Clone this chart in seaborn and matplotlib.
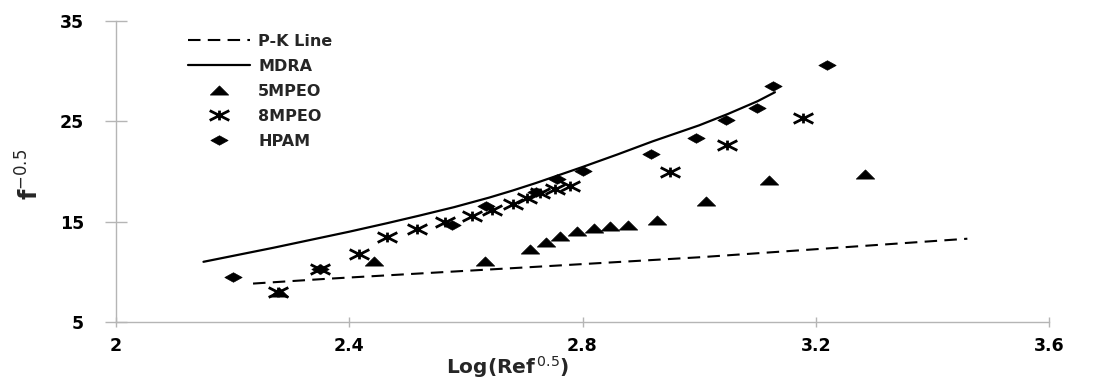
import matplotlib
matplotlib.use("Agg")
import matplotlib.pyplot as plt
from matplotlib.path import Path
from matplotlib.lines import Line2D
import seaborn as sns

# ---- data ----
pk_x = [2.235, 2.36, 2.72, 3.0, 3.46]
pk_y = [8.83, 9.3, 10.5, 11.45, 13.3]

mdra_x = [2.15, 2.27, 2.40, 2.465, 2.52, 2.58, 2.64, 2.68, 2.72, 2.76, 2.80, 2.86, 2.92, 3.00, 3.05, 3.10, 3.13]
mdra_y = [11.0, 12.4, 14.0, 14.85, 15.6, 16.45, 17.4, 18.1, 18.85, 19.65, 20.45, 21.7, 23.0, 24.6, 25.75, 27.0, 27.9]

mpeo5_x = [2.28, 2.443, 2.632, 2.71, 2.737, 2.762, 2.791, 2.82, 2.848, 2.878, 2.927, 3.011, 3.12, 3.284]
mpeo5_y = [8.0, 11.05, 11.05, 12.3, 13.0, 13.6, 14.05, 14.4, 14.6, 14.7, 15.15, 17.1, 19.2, 19.75]

mpeo8_x = [2.278, 2.35, 2.416, 2.465, 2.516, 2.564, 2.61, 2.645, 2.68, 2.705, 2.727, 2.752, 2.779, 2.95, 3.048, 3.178]
mpeo8_y = [8.0, 10.3, 11.8, 13.5, 14.3, 14.95, 15.6, 16.2, 16.8, 17.4, 17.9, 18.3, 18.6, 20.0, 22.6, 25.3]

hpam_x = [2.20, 2.35, 2.576, 2.634, 2.72, 2.757, 2.801, 2.917, 2.995, 3.046, 3.10, 3.126, 3.219]
hpam_y = [9.5, 10.3, 14.7, 16.6, 18.0, 19.3, 20.05, 21.7, 23.3, 25.1, 26.3, 28.5, 30.6]

x_ticks = [2, 2.4, 2.8, 3.2, 3.6]
x_tick_labels = ["2", "2.4", "2.8", "3.2", "3.6"]
y_ticks = [5, 15, 25, 35]
y_tick_labels = ["5", "15", "25", "35"]

# ---- style ----
sns.set_style("white")
plt.rcParams["font.family"] = ["DejaVu Sans"]

tri_marker = Path([(-1, -0.5), (1, -0.5), (0, 0.5), (-1, -0.5)],
                  [Path.MOVETO, Path.LINETO, Path.LINETO, Path.CLOSEPOLY])
dia_marker = Path([(-1, 0), (0, 0.55), (1, 0), (0, -0.55), (-1, 0)],
                  [Path.MOVETO, Path.LINETO, Path.LINETO, Path.LINETO, Path.CLOSEPOLY])
star_marker = Path([(0, -0.5), (0, 0.5), (-1, -0.5), (1, 0.5), (-1, 0.5), (1, -0.5)],
                   [Path.MOVETO, Path.LINETO, Path.MOVETO, Path.LINETO, Path.MOVETO, Path.LINETO])

fig = plt.figure(figsize=(11, 3.81), dpi=100)
ax = fig.add_axes([116 / 1100, 1 - 322 / 381, (1049 - 116) / 1100, (322 - 21) / 381])

sns.lineplot(x=pk_x, y=pk_y, ax=ax, color="black", lw=1.5,
             linestyle=(0, (6, 3.5)), sort=True)
sns.lineplot(x=mdra_x, y=mdra_y, ax=ax, color="black", lw=1.6, sort=True)

sns.scatterplot(x=mpeo5_x, y=mpeo5_y, ax=ax, marker=tri_marker, s=175,
                color="black", edgecolor="black", linewidth=0.5, zorder=3)
sns.scatterplot(x=mpeo8_x, y=mpeo8_y, ax=ax, marker=star_marker, s=200,
                color="black", edgecolor="black", linewidth=2.0, zorder=3)
sns.scatterplot(x=hpam_x, y=hpam_y, ax=ax, marker=dia_marker, s=155,
                color="black", edgecolor="black", linewidth=0.5, zorder=3)

ax.set_xlim(2, 3.6)
ax.set_ylim(5, 35)
ax.set_xticks(x_ticks)
ax.set_xticklabels(x_tick_labels)
ax.set_yticks(y_ticks)
ax.set_yticklabels(y_tick_labels)

grey = "#b5b5b5"
for side in ["top", "right"]:
    ax.spines[side].set_visible(False)
for side in ["left", "bottom"]:
    ax.spines[side].set_color(grey)
    ax.spines[side].set_linewidth(1.0)
ax.tick_params(axis="y", direction="inout", length=16, width=1, color=grey,
               pad=15, labelsize=12.5, labelcolor="black", left=True)
ax.tick_params(axis="x", direction="inout", length=7, width=1, color=grey,
               pad=7, labelsize=12.5, labelcolor="black", bottom=True)
for lab in ax.get_xticklabels() + ax.get_yticklabels():
    lab.set_fontweight("bold")
ax.grid(False)

ax.set_xlabel(r"Log(Ref$^{\,0.5}$)", fontsize=14.5, fontweight="bold")
ax.xaxis.set_label_coords((508 - 116) / 933, -0.107)
ax.set_ylabel(r"$\mathbf{f}^{-0.5}$", fontsize=17)
ax.yaxis.set_label_coords((44 - 116) / 933, 0.49)

handles = [
    Line2D([], [], color="black", lw=1.5, linestyle=(0, (6, 3.5))),
    Line2D([], [], color="black", lw=1.6),
    Line2D([], [], color="black", lw=0, marker=tri_marker, markersize=13.2,
           markeredgewidth=0.5),
    Line2D([], [], color="black", lw=0, marker=star_marker, markersize=14.1,
           markeredgewidth=2.0),
    Line2D([], [], color="black", lw=0, marker=dia_marker, markersize=12.4,
           markeredgewidth=0.5),
]
labels = ["P-K Line", "MDRA", "5MPEO", "8MPEO", "HPAM"]
fig.legend(handles, labels, loc="upper left",
           bbox_to_anchor=(188 / 1100, 1 - 34 / 381),
           frameon=False, borderpad=0, borderaxespad=0,
           handlelength=3.9, handletextpad=0.5, labelspacing=0.62,
           prop={"weight": "bold", "size": 11.5})

fig.savefig("out.png", dpi=100)
